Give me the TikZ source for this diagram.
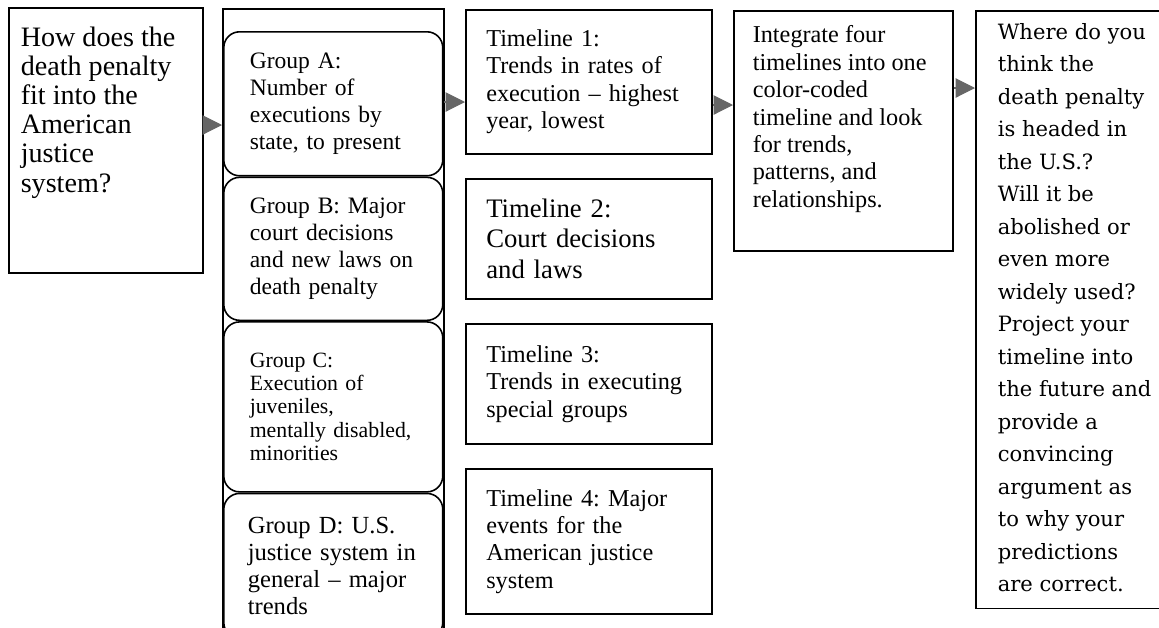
\documentclass[tikz,border=0pt]{standalone}
\usepackage{fontspec}
\setmainfont{Liberation Serif}
\newfontfamily\wherefont{DejaVu Serif}
\usetikzlibrary{arrows.meta,positioning}
\tikzset{
  >=Stealth,
  box/.style={rectangle, draw, line width=0.9pt, anchor=north west, align=left,
    font=\fontsize{13.8}{15.6}\selectfont},
  grp/.style={box, rounded corners=9pt, text width=3.34cm, inner xsep=0.52cm,
    font=\fontsize{13.4}{15.5}\selectfont},
  tline/.style={box, text width=4.1cm, inner xsep=0.41cm},
  flow/.style={-{Triangle[length=11pt,width=11pt,fill=black!60]}, draw=black!60, line width=0.6pt}
}
% top-aligned text block: width, height, text
\newcommand{\topcell}[3]{\parbox[c][#2][t]{#1}{\raggedright #3}}

\begin{document}
\frenchspacing
\begin{tikzpicture}[x=0.02cm, y=-0.02cm]
  \useasboundingbox (0,0) rectangle (1159,627);
  \clip (0,0) rectangle (1159,627);

  % question
  \node[box, inner xsep=0.24cm, inner ysep=0.38cm, font=\fontsize{16}{16.6}\selectfont] (quest) at (8,7)
    {\topcell{3.4cm}{4.54cm}{How does the\\ death penalty\\ fit into the\\ American\\ justice\\ system?}};

  % research groups
  \node[box, minimum width=4.42cm, minimum height=12.7cm, inner sep=0pt] (groups) at (222,8) {};
  \node[grp, minimum height=2.88cm] (grpA) at (223,31) {Group A:\\ Number of\\ executions by\\ state, to present};
  \node[grp, minimum height=2.86cm, below=0pt of grpA] (grpB) {Group B: Major\\ court decisions\\ and new laws on\\ death penalty};
  \node[grp, minimum height=3.4cm, below=0pt of grpB, font=\fontsize{12.4}{13.2}\selectfont] (grpC)
    {Group C:\\ Execution of\\ juveniles,\\ mentally disabled,\\ minorities};
  \node[grp, minimum height=2.9cm, below=0pt of grpC, text width=3.42cm, inner xsep=0.48cm,
    font=\fontsize{14}{15.3}\selectfont] (grpD)
    {Group D: U.S.\\ justice system in\\ general -- major\\ trends};

  % timelines
  \node[tline, minimum height=2.88cm] (tl1) at (465,9) {Timeline 1:\\ Trends in rates of\\ execution -- highest\\ year, lowest};
  \node[tline, minimum height=2.4cm, below=0.47cm of tl1, font=\fontsize{15.2}{17.6}\selectfont] (tl2)
    {Timeline 2:\\ Court decisions\\ and laws};
  \node[tline, minimum height=2.4cm, below=0.47cm of tl2] (tl3) {Timeline 3:\\ Trends in executing\\ special groups};
  \node[tline, minimum height=2.9cm, below=0.47cm of tl3] (tl4) {Timeline 4: Major\\ events for the\\ American justice\\ system};

  % integration
  \node[box, inner xsep=0.38cm, inner ysep=0.3cm] (integ) at (733,10)
    {\topcell{3.62cm}{4.2cm}{Integrate four\\ timelines into one\\ color-coded\\ timeline and look\\ for trends,\\ patterns, and\\ relationships.}};

  % projection
  \node[box, inner xsep=0.44cm, inner ysep=0.25cm, font=\wherefont\fontsize{12}{18.5}\selectfont] (where) at (975,10)
    {\topcell{3.6cm}{11.46cm}{Where do you\\ think the\\ death penalty\\ is headed in\\ the U.S.?\\ Will it be\\ abolished or\\ even more\\ widely used?\\ Project your\\ timeline into\\ the future and\\ provide a\\ convincing\\ argument as\\ to why your\\ predictions\\ are correct.}};

  \draw[flow] (quest.east |- 0,125) -- (groups.west |- 0,125);
  \draw[flow] (grpA.east |- 0,102) -- (tl1.west |- 0,102);
  \draw[flow] (tl1.east |- 0,105) -- (integ.west |- 0,105);
  \draw[flow] (integ.east |- 0,88) -- (where.west |- 0,88);
\end{tikzpicture}
\end{document}
